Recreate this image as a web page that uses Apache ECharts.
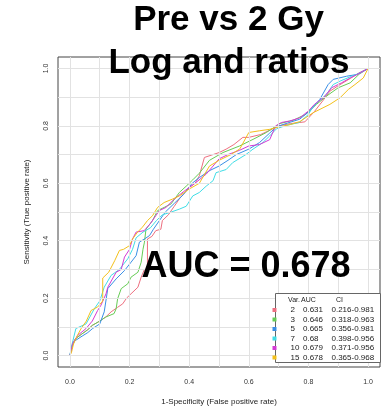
<!DOCTYPE html>
<html>
<head>
<meta charset="utf-8">
<script src="https://cdn.jsdelivr.net/npm/echarts@6/dist/echarts.min.js"></script>
<style>
html,body{margin:0;padding:0;background:#fff;}
#chart{width:391px;height:411px;}
</style>
</head>
<body>
<div id="chart"></div>
<script>
// ---- data ----
var titleLines = ['Pre vs 2 Gy', 'Log and ratios'];
var aucText = 'AUC = 0.678';
var xAxisTitle = '1-Specificity (False positive rate)';
var yAxisTitle = 'Sensitivity (True positive rate)';
var tickValues = [0, 0.2, 0.4, 0.6, 0.8, 1.0];
var gridValues = [0, 0.1, 0.2, 0.3, 0.4, 0.5, 0.6, 0.7, 0.8, 0.9, 1.0];
var varNames = ['2', '3', '5', '7', '10', '15'];
var aucValues = ['0.631', '0.646', '0.665', '0.68', '0.679', '0.678'];
var ciValues = ['0.216-0.981', '0.318-0.963', '0.356-0.981', '0.398-0.956', '0.371-0.956', '0.365-0.968'];
var legendHeader = ['Var.', 'AUC', 'CI'];

var roc2 = [[0,0],[0.005,0.02],[0.01,0.04],[0.019,0.059],[0.04,0.075],[0.06,0.09],[0.075,0.105],[0.1,0.12],[0.12,0.134],[0.138,0.152],[0.16,0.168],[0.177,0.18],[0.19,0.2],[0.205,0.215],[0.228,0.238],[0.239,0.273],[0.25,0.3],[0.26,0.3],[0.26,0.406],[0.275,0.415],[0.288,0.435],[0.305,0.44],[0.31,0.47],[0.33,0.49],[0.35,0.52],[0.37,0.55],[0.4,0.585],[0.42,0.6],[0.434,0.626],[0.451,0.69],[0.48,0.7],[0.5,0.707],[0.524,0.719],[0.55,0.735],[0.58,0.76],[0.6,0.76],[0.64,0.77],[0.67,0.785],[0.7,0.8],[0.74,0.808],[0.788,0.814],[0.82,0.85],[0.85,0.89],[0.872,0.921],[0.9,0.94],[0.94,0.965],[0.97,0.985],[1,1]];
var roc3 = [[0,0],[0.005,0.02],[0.01,0.04],[0.019,0.059],[0.04,0.075],[0.06,0.09],[0.075,0.105],[0.1,0.12],[0.12,0.134],[0.148,0.146],[0.155,0.163],[0.16,0.198],[0.172,0.233],[0.194,0.25],[0.205,0.273],[0.228,0.29],[0.239,0.325],[0.245,0.37],[0.25,0.395],[0.255,0.44],[0.277,0.47],[0.294,0.505],[0.316,0.516],[0.339,0.528],[0.367,0.568],[0.39,0.59],[0.412,0.612],[0.434,0.635],[0.468,0.68],[0.513,0.707],[0.569,0.73],[0.614,0.753],[0.659,0.777],[0.704,0.808],[0.75,0.82],[0.79,0.84],[0.827,0.875],[0.861,0.904],[0.9,0.933],[0.94,0.95],[0.97,0.98],[1,1]];
var roc5 = [[0,0],[0.005,0.03],[0.015,0.05],[0.037,0.065],[0.06,0.08],[0.076,0.094],[0.1,0.11],[0.115,0.152],[0.127,0.233],[0.155,0.267],[0.183,0.296],[0.205,0.325],[0.222,0.348],[0.233,0.395],[0.25,0.406],[0.267,0.418],[0.28,0.44],[0.3,0.47],[0.32,0.5],[0.35,0.53],[0.38,0.56],[0.41,0.6],[0.434,0.62],[0.47,0.645],[0.5,0.66],[0.53,0.68],[0.558,0.7],[0.6,0.719],[0.636,0.742],[0.67,0.775],[0.693,0.797],[0.73,0.81],[0.77,0.823],[0.805,0.852],[0.838,0.892],[0.866,0.944],[0.883,0.962],[0.928,0.973],[0.962,0.979],[1,1]];
var roc7 = [[0,0],[0.005,0.03],[0.009,0.047],[0.02,0.094],[0.054,0.11],[0.082,0.163],[0.1,0.19],[0.115,0.238],[0.138,0.279],[0.166,0.3],[0.194,0.337],[0.21,0.37],[0.222,0.41],[0.245,0.43],[0.27,0.445],[0.29,0.47],[0.31,0.49],[0.34,0.5],[0.367,0.51],[0.39,0.52],[0.412,0.556],[0.434,0.568],[0.457,0.59],[0.48,0.609],[0.49,0.637],[0.524,0.648],[0.546,0.672],[0.59,0.7],[0.614,0.719],[0.647,0.742],[0.67,0.765],[0.693,0.79],[0.726,0.802],[0.77,0.812],[0.8,0.84],[0.816,0.869],[0.861,0.91],[0.883,0.944],[0.906,0.956],[0.945,0.973],[0.975,0.985],[1,1]];
var roc10 = [[0,0],[0.005,0.02],[0.009,0.042],[0.026,0.07],[0.054,0.094],[0.075,0.12],[0.093,0.157],[0.104,0.175],[0.121,0.215],[0.127,0.238],[0.155,0.29],[0.172,0.3],[0.183,0.343],[0.2,0.37],[0.21,0.406],[0.222,0.43],[0.249,0.435],[0.27,0.46],[0.288,0.487],[0.3,0.505],[0.322,0.516],[0.35,0.545],[0.38,0.57],[0.423,0.603],[0.457,0.632],[0.48,0.66],[0.5,0.685],[0.53,0.7],[0.569,0.715],[0.6,0.73],[0.636,0.735],[0.67,0.752],[0.69,0.8],[0.71,0.812],[0.737,0.817],[0.771,0.828],[0.8,0.852],[0.82,0.875],[0.85,0.898],[0.878,0.933],[0.911,0.95],[0.94,0.967],[0.973,0.984],[1,1]];
var roc15 = [[0,0],[0.005,0.01],[0.012,0.04],[0.025,0.07],[0.037,0.093],[0.055,0.12],[0.071,0.157],[0.093,0.169],[0.11,0.19],[0.11,0.27],[0.13,0.29],[0.15,0.33],[0.166,0.366],[0.18,0.37],[0.2,0.383],[0.21,0.406],[0.227,0.43],[0.243,0.447],[0.26,0.47],[0.277,0.487],[0.294,0.516],[0.316,0.533],[0.344,0.545],[0.367,0.556],[0.4,0.58],[0.434,0.6],[0.468,0.66],[0.5,0.68],[0.54,0.7],[0.57,0.72],[0.6,0.777],[0.636,0.783],[0.67,0.788],[0.7,0.796],[0.74,0.805],[0.771,0.815],[0.816,0.846],[0.872,0.875],[0.906,0.898],[0.934,0.927],[0.956,0.944],[0.984,0.967],[1,1]];
var rocData = [roc2, roc3, roc5, roc7, roc10, roc15];

// ---- styles ----
var colors = ['#EE6F80', '#66CC55', '#3A8FE6', '#40DDE6', '#D43AD4', '#F3C01A'];
var FONT = '"Liberation Sans", Arial, sans-serif';

var chart = echarts.init(document.getElementById('chart'), null, {renderer: 'canvas'});

var series = [];
// grid lines via markLine
series.push({
  type: 'line', data: [], silent: true, animation: false,
  markLine: {
    silent: true, symbol: ['none', 'none'], animation: false,
    label: {show: false},
    lineStyle: {color: '#e2e2e2', width: 1, type: 'solid'},
    data: gridValues.map(function (v) { return {xAxis: v}; })
      .concat(gridValues.map(function (v) { return {yAxis: v}; }))
  }
});
rocData.forEach(function (d, i) {
  series.push({
    type: 'line', name: varNames[i], data: d, showSymbol: false, symbol: 'none',
    animation: false, silent: true,
    lineStyle: {color: colors[i], width: 1}, itemStyle: {color: colors[i]}
  });
});

// legend graphics
var lgLeft = 275, lgTop = 293, lgRight = 380, lgBottom = 362;
var graphics = [];
graphics.push({type: 'rect', z: 100, shape: {x: lgLeft + 0.5, y: lgTop + 0.5, width: lgRight - lgLeft, height: lgBottom - lgTop},
  style: {fill: '#fff', stroke: '#666', lineWidth: 1}});
var colX = [288, 301, 336];
legendHeader.forEach(function (t, k) {
  graphics.push({type: 'text', z: 101, style: {text: t, x: colX[k], y: 300, fill: '#222', font: '7px ' + FONT, textVerticalAlign: 'middle', verticalAlign: 'middle'}});
});
var rowY0 = 310, rowStep = 9.5;
varNames.forEach(function (n, i) {
  var y = rowY0 + i * rowStep;
  graphics.push({type: 'rect', z: 101, shape: {x: 272.5, y: y - 2, width: 4, height: 4}, style: {fill: colors[i]}});
  graphics.push({type: 'text', z: 101, style: {text: n, x: 290.5, y: y, fill: '#222', font: '8px ' + FONT, verticalAlign: 'middle', textVerticalAlign: 'middle'}});
  graphics.push({type: 'text', z: 101, style: {text: aucValues[i], x: 303, y: y, fill: '#222', font: '8px ' + FONT, verticalAlign: 'middle', textVerticalAlign: 'middle'}});
  graphics.push({type: 'text', z: 101, style: {text: ciValues[i], x: 331.5, y: y, fill: '#222', font: '8px ' + FONT, verticalAlign: 'middle', textVerticalAlign: 'middle'}});
});
// titles
graphics.push({type: 'text', z: 110, style: {text: titleLines[0], x: 228.5, y: 20.5, fill: '#000', font: 'bold 35px ' + FONT, align: 'center', textAlign: 'center', verticalAlign: 'middle', textVerticalAlign: 'middle'}});
graphics.push({type: 'text', z: 110, style: {text: titleLines[1], x: 229, y: 63, fill: '#000', font: 'bold 35px ' + FONT, align: 'center', textAlign: 'center', verticalAlign: 'middle', textVerticalAlign: 'middle'}});
graphics.push({type: 'text', z: 110, style: {text: aucText, x: 246, y: 267, fill: '#000', font: 'bold 36px ' + FONT, align: 'center', textAlign: 'center', verticalAlign: 'middle', textVerticalAlign: 'middle'}});

var axisCommon = {
  type: 'value', min: -0.04, max: 1.04,
  axisLine: {show: false},
  splitLine: {show: false},
  axisTick: {show: true, length: 5, lineStyle: {color: '#333', width: 1}, customValues: tickValues},
  nameTextStyle: {fontFamily: FONT, fontSize: 8, color: '#222'}
};

chart.setOption({
  animation: false,
  backgroundColor: '#fff',
  grid: {left: 58, top: 57, width: 322, height: 311, show: true, borderColor: '#444', borderWidth: 1, backgroundColor: 'transparent', containLabel: false},
  xAxis: Object.assign({}, axisCommon, {
    name: xAxisTitle, nameLocation: 'middle', nameGap: 31,
    axisLabel: {customValues: tickValues, margin: 12, fontSize: 7, fontFamily: FONT, color: '#333',
      formatter: function (v) { return v.toFixed(1); }}
  }),
  yAxis: Object.assign({}, axisCommon, {
    name: yAxisTitle, nameLocation: 'middle', nameGap: 27, nameRotate: 90,
    axisLabel: {customValues: tickValues, margin: 8, rotate: 90, fontSize: 7, fontFamily: FONT, color: '#333',
      formatter: function (v) { return v.toFixed(1); }}
  }),
  series: series,
  graphic: graphics
});
</script>
</body>
</html>
